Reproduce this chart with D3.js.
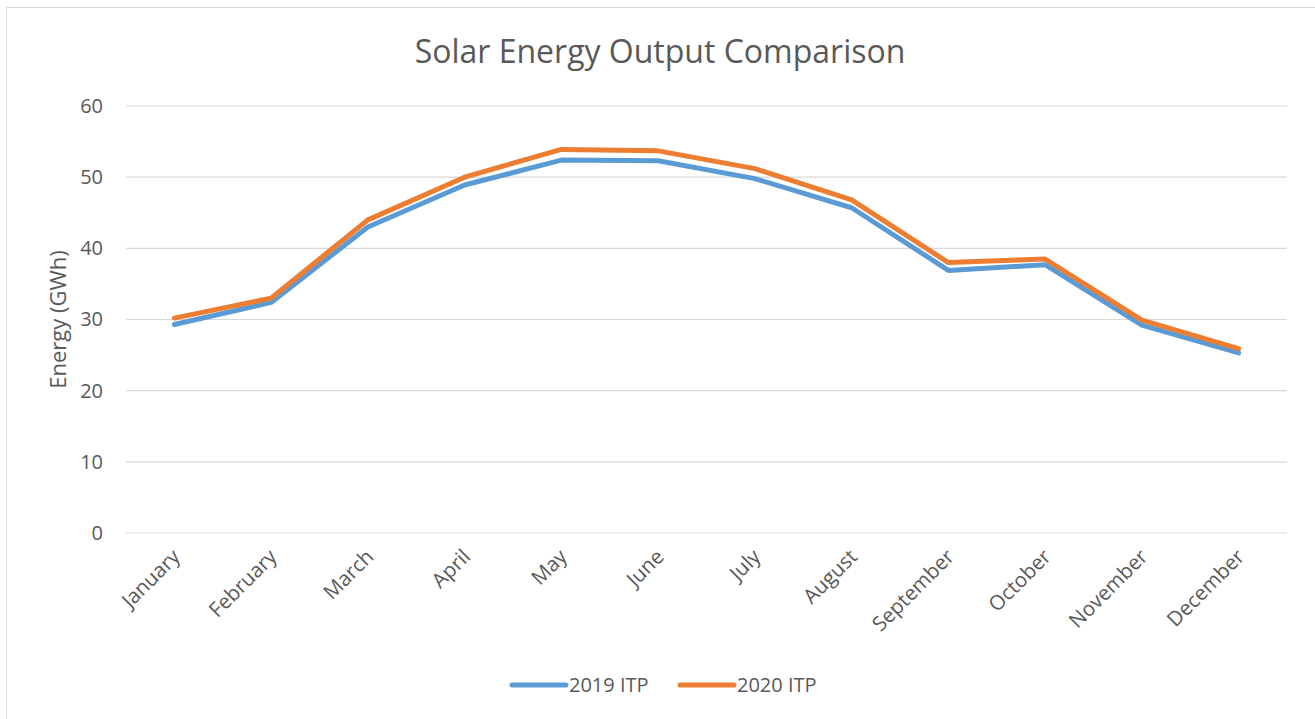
<!DOCTYPE html>
<html>
<head>
<meta charset="utf-8">
<script src="https://cdn.jsdelivr.net/npm/d3@7/dist/d3.min.js"></script>
<style>
  html, body { margin: 0; padding: 0; background: #fff; }
  svg { display: block; font-family: "Open Sans", sans-serif; }
</style>
</head>
<body>
<svg id="chart" width="1315" height="719"></svg>
<script>
// Monthly solar energy output (GWh), two planning cycles
const months = ["January", "February", "March", "April", "May", "June",
  "July", "August", "September", "October", "November", "December"];
const itp2019 = [29.3, 32.4, 43.0, 48.9, 52.4, 52.3, 49.8, 45.7, 36.9, 37.7, 29.2, 25.3];
const itp2020 = [30.2, 33.0, 44.0, 50.0, 53.9, 53.7, 51.2, 46.8, 38.0, 38.5, 29.9, 25.9];
const yTicks = [0, 10, 20, 30, 40, 50, 60];

const series = [
  { name: "2019 ITP", values: itp2019, color: "#5B9BD5" },
  { name: "2020 ITP", values: itp2020, color: "#ED7D31" }
];

const svg = d3.select("#chart");
const textColor = "#595959";

// chart frame
svg.append("rect")
  .attr("x", 6.5).attr("y", 7.5)
  .attr("width", 1330).attr("height", 730)
  .attr("fill", "none").attr("stroke", "#D9D9D9").attr("stroke-width", 1);

const plot = { left: 126, right: 1287, top: 106, bottom: 533 };

const x = d3.scaleBand().domain(months).range([plot.left, plot.right]);
const y = d3.scaleLinear().domain([0, 60]).range([plot.bottom, plot.top]);

// title
svg.append("text")
  .attr("x", 660).attr("y", 63)
  .attr("text-anchor", "middle")
  .attr("fill", textColor)
  .style("font-size", "32px")
  .text("Solar Energy Output Comparison");

// horizontal gridlines
svg.append("g")
  .selectAll("line")
  .data(yTicks)
  .join("line")
  .attr("x1", plot.left).attr("x2", plot.right)
  .attr("y1", d => y(d)).attr("y2", d => y(d))
  .attr("stroke", "#D9D9D9").attr("stroke-width", 1.2);

// y axis labels
const yAxis = svg.append("g")
  .attr("transform", `translate(${plot.left},0)`)
  .call(d3.axisLeft(y).tickValues(yTicks).tickSize(0).tickPadding(23));
yAxis.select(".domain").remove();
yAxis.selectAll("text")
  .attr("fill", textColor)
  .style("font-size", "20px")
  .style("font-family", "'Open Sans', sans-serif");

// x axis labels, rotated
const xAxis = svg.append("g")
  .attr("transform", `translate(0,${plot.bottom})`)
  .call(d3.axisBottom(x).tickSize(0));
xAxis.select(".domain").remove();
xAxis.selectAll("text")
  .attr("fill", textColor)
  .style("font-size", "20.5px")
  .style("font-family", "'Open Sans', sans-serif")
  .attr("text-anchor", "end")
  .attr("dy", null)
  .attr("y", 0)
  .attr("transform", "translate(7,25) rotate(-45)");

// y axis title
svg.append("text")
  .attr("transform", `translate(66,${(plot.top + plot.bottom) / 2}) rotate(-90)`)
  .attr("text-anchor", "middle")
  .attr("fill", textColor)
  .style("font-size", "22px")
  .text("Energy (GWh)");

// series lines
const line = d3.line()
  .x((d, i) => x(months[i]) + x.bandwidth() / 2)
  .y(d => y(d));

svg.append("g")
  .selectAll("path")
  .data(series)
  .join("path")
  .attr("d", d => line(d.values))
  .attr("fill", "none")
  .attr("stroke", d => d.color)
  .attr("stroke-width", 5)
  .attr("stroke-linejoin", "round")
  .attr("stroke-linecap", "round");

// legend
const legendX = [512, 680];
const legend = svg.append("g")
  .selectAll("g")
  .data(series)
  .join("g")
  .attr("transform", (d, i) => `translate(${legendX[i]},685)`);
legend.append("line")
  .attr("x1", 0).attr("x2", 54)
  .attr("stroke", d => d.color)
  .attr("stroke-width", 5)
  .attr("stroke-linecap", "round");
legend.append("text")
  .attr("x", 57).attr("y", 7)
  .attr("fill", textColor)
  .style("font-size", "20px")
  .text(d => d.name);
</script>
</body>
</html>
